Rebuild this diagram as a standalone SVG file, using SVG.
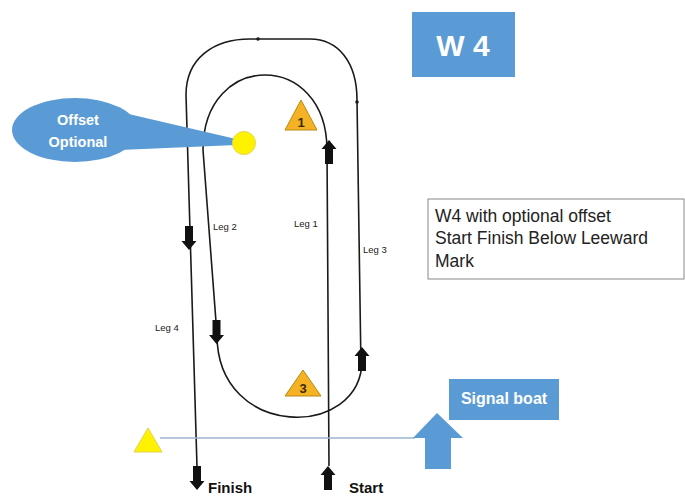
<svg xmlns="http://www.w3.org/2000/svg" width="685" height="496" viewBox="0 0 685 496">
<defs>
<style>
.track{fill:none;stroke:#1a1a1a;stroke-width:1.6}
.blk{fill:#111}
.blue{fill:#5B9BD5}
.wt{fill:#fff;font-family:"Liberation Sans",Arial,sans-serif;font-weight:bold}
.leg{font-family:"Liberation Sans",Arial,sans-serif;font-size:9.5px;fill:#222}
.bt{font-family:"Liberation Sans",Arial,sans-serif;font-size:15px;font-weight:bold;fill:#111}
.mk{fill:#F4B224;stroke:#B88A10;stroke-width:1}
.mkt{font-family:"Liberation Sans",Arial,sans-serif;font-size:13px;font-weight:bold;fill:#3b2a00;text-anchor:middle}
</style>
<path id="dn" d="M-4,-12 L4,-12 L4,3 L7.5,3 L0,12 L-7.5,3 L-4,3 Z"/>
<path id="up" d="M-4,12 L4,12 L4,-3 L7.5,-3 L0,-12 L-7.5,-3 L-4,-3 Z"/>
</defs>
<rect width="685" height="496" fill="#fff"/>

<g id="connectors">
<path class="track" d="M197,467 L186,95 C186,58 214,39 250,39 L310,39 C338,39 357,62 357,100 L361,368"/>
<path class="track" d="M329,466 L327,150 C327,50 203,50 203,150 L217,335 C217,440 362,440 362,360"/>
<circle cx="258" cy="39" r="1.8" fill="#1a1a1a"/>
<circle cx="357" cy="102" r="1.8" fill="#1a1a1a"/>
<line x1="160" y1="438" x2="415" y2="438" stroke="#9DB4CE" stroke-width="1.6"/>
</g>

<g id="arrows">
<use href="#dn" class="blk" x="189" y="238"/>
<use href="#dn" class="blk" x="216.5" y="332"/>
<use href="#up" class="blk" x="362" y="359"/>
<use href="#up" class="blk" x="329" y="152"/>
<use href="#up" class="blk" x="328" y="478"/>
<use href="#dn" class="blk" x="197" y="478"/>
</g>

<g id="callout">
<path class="blue" d="M120,112 L236,139 L236,145 L120,150 Z"/>
<ellipse class="blue" cx="75" cy="130" rx="63" ry="32"/>
<text class="wt" x="78" y="125" font-size="14.5" text-anchor="middle">Offset</text>
<text class="wt" x="78" y="147" font-size="14.5" text-anchor="middle">Optional</text>
</g>

<g id="offset-mark">
<circle cx="244" cy="143" r="11.5" fill="#FFF200" stroke="#E4D84A" stroke-width="1"/>
</g>

<g id="mark1">
<polygon class="mk" points="301,100 285,130 317,130"/>
<text class="mkt" x="301" y="127">1</text>
</g>

<g id="mark3">
<polygon class="mk" points="303,370 285,396 321,396"/>
<text class="mkt" x="303" y="393">3</text>
</g>

<g id="pin">
<polygon points="148,428 134,452 162,452" fill="#FFF200" stroke="#E0D24A" stroke-width="1"/>
</g>

<g id="signal-boat-arrow">
<path class="blue" d="M437,413 L463,438 L451,438 L451,469 L425,469 L425,438 L413,438 Z"/>
</g>

<g id="signal-boat">
<rect class="blue" x="449" y="379" width="110" height="41"/>
<text class="wt" x="504" y="404" font-size="16" text-anchor="middle">Signal boat</text>
</g>

<g id="title">
<rect class="blue" x="412" y="12" width="103" height="65"/>
<text class="wt" x="463" y="56" font-size="30" text-anchor="middle">W 4</text>
</g>

<g id="note">
<rect x="428" y="199" width="256" height="80" fill="#fff" stroke="#888" stroke-width="1"/>
<text font-family="Liberation Sans, Arial, sans-serif" font-size="17.5" fill="#222">
<tspan x="435" y="222">W4 with optional offset</tspan>
<tspan x="435" y="244">Start Finish Below Leeward</tspan>
<tspan x="435" y="267">Mark</tspan>
</text>
</g>

<g id="labels">
<text class="leg" x="213" y="230">Leg 2</text>
<text class="leg" x="294" y="227">Leg 1</text>
<text class="leg" x="363" y="253">Leg 3</text>
<text class="leg" x="155" y="331">Leg 4</text>
<text class="bt" x="208" y="493">Finish</text>
<text class="bt" x="349" y="493">Start</text>
</g>
</svg>
